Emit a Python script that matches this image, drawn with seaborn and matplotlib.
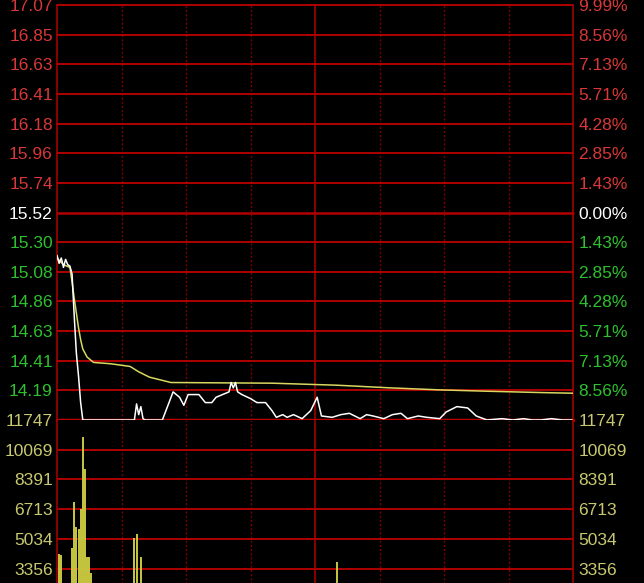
import matplotlib
matplotlib.use("Agg")
import matplotlib.pyplot as plt
import seaborn as sns

# 昨收 / reference close
prev_close = 15.52

# price axis labels (top -> bottom), left and right side
price_labels = ["17.07", "16.85", "16.63", "16.41", "16.18", "15.96", "15.74",
                "15.52", "15.30", "15.08", "14.86", "14.63", "14.41", "14.19"]
pct_labels = ["9.99%", "8.56%", "7.13%", "5.71%", "4.28%", "2.85%", "1.43%",
              "0.00%", "1.43%", "2.85%", "4.28%", "5.71%", "7.13%", "8.56%"]
vol_labels = ["11747", "10069", "8391", "6713", "5034", "3356"]

# price line (minute index, price)
price_min = [0, 1, 2, 3, 4, 5, 6, 7, 8, 9, 10, 11, 12, 36, 37, 38, 39, 40, 41,
             49, 54, 57, 59, 61, 63, 66, 69, 72, 74, 77, 80, 81, 82, 83, 84, 86,
             90, 93, 97, 100, 102, 105, 107, 110, 114, 118, 121, 123, 128, 132,
             136, 141, 144, 147, 152, 156, 160, 163, 168, 172, 178, 181, 186,
             191, 195, 200, 207, 212, 217, 221, 225, 230, 235, 240]
price_val = [15.20, 15.14, 15.18, 15.11, 15.17, 15.13, 15.12, 15.06, 14.75,
             14.47, 14.30, 14.10, 13.97, 13.97, 14.09, 14.01, 14.07, 13.98,
             13.97, 13.97, 14.18, 14.14, 14.08, 14.16, 14.16, 14.16, 14.10,
             14.10, 14.14, 14.16, 14.18, 14.25, 14.21, 14.25, 14.18, 14.16,
             14.13, 14.10, 14.10, 14.04, 13.99, 14.01, 13.99, 14.01, 13.98,
             14.04, 14.14, 14.00, 13.99, 14.01, 14.02, 13.98, 14.01, 14.00,
             13.98, 14.01, 14.02, 13.98, 14.00, 13.99, 13.98, 14.03, 14.07,
             14.06, 14.00, 13.97, 13.98, 13.97, 13.98, 13.97, 13.97, 13.98,
             13.97, 13.97]

# average price line
avg_min = [0, 3, 6, 7, 8, 9, 10, 11, 12, 14, 17, 25, 34, 38, 43, 48, 53,
           100, 130, 155, 178, 200, 225, 240]
avg_val = [15.18, 15.13, 15.11, 15.00, 14.88, 14.77, 14.66, 14.57, 14.50,
           14.44, 14.40, 14.39, 14.37, 14.33, 14.29, 14.27, 14.25,
           14.245, 14.23, 14.21, 14.195, 14.185, 14.175, 14.17]

# volume bars
vol_min = [0, 1, 2, 3, 4, 5, 6, 7, 8, 9, 10, 11, 12, 13, 14, 15, 16, 17,
           36, 37, 39, 130]
vol_val = [2100, 4200, 4100, 1500, 1200, 900, 1800, 4500, 7100, 5700, 5600,
           6700, 10800, 9000, 4000, 4000, 3100, 2000, 5100, 5300, 4000, 3700]

RED = "#d83838"
GREEN = "#2ec02e"
YEL = "#c8c870"
GRID = "#b00000"

sns.set_style("dark")
plt.rcParams["font.family"] = ["Liberation Sans", "DejaVu Sans"]

fig = plt.figure(figsize=(6.44, 5.83), dpi=100, facecolor="black")
left, width = 57 / 644, 516 / 644
ax = fig.add_axes([left, (583 - 420) / 583, width, 415 / 583])
axv = fig.add_axes([left, (583 - 628) / 583, width, 208 / 583])

step = (float(price_labels[0]) - prev_close) / 7
lo, hi = prev_close - 7 * step, prev_close + 7 * step
ticks = [prev_close + (7 - k) * step for k in range(14)]
vmax = float(vol_labels[0])
vticks = [vmax * (7 - k) / 7 for k in range(len(vol_labels))]

for a in (ax, axv):
    a.set_facecolor("black")
    a.set_xlim(0, 240)
    for s in a.spines.values():
        s.set_visible(False)
    a.set_xticks([])
    a.grid(False)
    for m in (30, 60, 90, 150, 180, 210):
        a.axvline(m, color="#7a0000", lw=1, ls=(0, (1.5, 1.5)))
    for m in (0, 120, 240):
        a.axvline(m, color=GRID, lw=1.1, clip_on=False)

# price panel
ax.set_ylim(lo, hi)
for t in ticks:
    ax.axhline(t, color=GRID, lw=1.4 if t != prev_close else 1.8, clip_on=False)
ax.axhline(lo, color="#c00000", lw=2.5, clip_on=False, zorder=1)
sns.lineplot(x=avg_min, y=avg_val, ax=ax, color="#d8d860", lw=1.1, sort=False, zorder=3)
sns.lineplot(x=price_min, y=price_val, ax=ax, color="white", lw=1.1, sort=False, zorder=4)
ax.set_yticks(ticks, price_labels)
ax.tick_params(axis="y", length=0, pad=3, labelsize=12.5)
ax.set_xlabel("")
ax.set_ylabel("")

ax2 = ax.twinx()
ax2.set_ylim(lo, hi)
ax2.set_yticks(ticks, pct_labels)
ax2.tick_params(axis="y", length=0, pad=4, labelsize=12.5)
for s in ax2.spines.values():
    s.set_visible(False)
ax2.grid(False)

for a in (ax, ax2):
    for lab, t in zip(a.get_yticklabels(), ticks):
        if abs(t - prev_close) < 1e-6:
            lab.set_color("white")
        elif t > prev_close:
            lab.set_color(RED)
        else:
            lab.set_color(GREEN)

# volume panel
axv.set_ylim(0, vmax)
for k in range(1, 7):
    axv.axhline(vmax * (7 - k) / 7, color=GRID, lw=1.4)
axv.vlines(vol_min, 0, vol_val, color="#c8c840", lw=1.4, zorder=3)
axv.set_yticks(vticks, vol_labels)
axv.tick_params(axis="y", length=0, pad=3, labelsize=12.5, labelcolor=YEL)
axv.set_ylabel("")

axv2 = axv.twinx()
axv2.set_ylim(0, vmax)
axv2.set_yticks(vticks, vol_labels)
axv2.tick_params(axis="y", length=0, pad=4, labelsize=12.5, labelcolor=YEL)
for s in axv2.spines.values():
    s.set_visible(False)
axv2.grid(False)

fig.savefig("out.png", dpi=100, facecolor="black")
